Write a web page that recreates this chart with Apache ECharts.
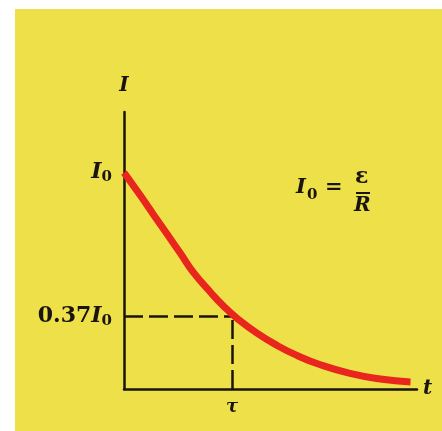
<!DOCTYPE html>
<html>
<head>
<meta charset="utf-8">
<script src="https://cdn.jsdelivr.net/npm/echarts@6/dist/echarts.min.js"></script>
<style>
  html, body { margin: 0; padding: 0; background: #fff; }
  #main { width: 442px; height: 431px; }
</style>
</head>
<body>
<div id="main"></div>
<script>
// time in units of tau, current in units of I0
const timeVals = [0, 0.15, 0.27, 0.40, 0.52, 0.64, 0.80, 0.92, 1.05, 1.23, 1.42, 1.60, 1.81, 2.09, 2.37, 2.65];
const currentVals = [1.0, 0.895, 0.808, 0.715, 0.628, 0.54, 0.447, 0.383, 0.325, 0.258, 0.200, 0.155, 0.113, 0.072, 0.046, 0.032];
const tauX = 1;
const markY = 0.335;
const yTicks = [markY, 1];
const yTickLabels = ['{n|0.37}{i|I}{s|0}', '{i|I}{s|0}'];
const xTicks = [tauX];
const xTickLabels = ['τ'];

const serif = '"DejaVu Serif", "Liberation Serif", serif';
const ink = '#1a1410';
const yellow = '#eee049';

const richTxt = {
  n: { fontFamily: serif, fontWeight: 'bold', fontSize: 22, color: ink },
  i: { fontFamily: serif, fontWeight: 'bold', fontStyle: 'italic', fontSize: 22, color: ink },
  s: { fontFamily: serif, fontWeight: 'bold', fontSize: 15, color: ink, padding: [10, 0, 0, 0] }
};

const chart = echarts.init(document.getElementById('main'));
chart.setOption({
  backgroundColor: '#fff',
  animation: false,
  graphic: [
    { type: 'rect', z: -10, shape: { x: 15, y: 9, width: 427, height: 422 }, style: { fill: yellow } },
    { type: 'text', left: 296, top: 177, style: { text: 'I', font: 'italic bold 21px ' + serif, fill: ink } },
    { type: 'text', left: 307, top: 188, style: { text: '0', font: 'bold 15px ' + serif, fill: ink } },
    { type: 'text', left: 325, top: 177, style: { text: '=', font: 'bold 21px ' + serif, fill: ink } },
    { type: 'text', left: 355, top: 166, style: { text: 'ε', font: 'bold 22px ' + serif, fill: ink } },
    { type: 'line', shape: { x1: 356, y1: 193, x2: 370, y2: 193 }, style: { stroke: ink, lineWidth: 2 } },
    { type: 'text', left: 354, top: 196, style: { text: 'R', font: 'italic bold 20px ' + serif, fill: ink } }
  ],
  grid: { left: 124, top: 112, right: 25, bottom: 42 },
  xAxis: {
    type: 'value', min: 0, max: 2.71,
    name: 't', nameLocation: 'end', nameGap: 6,
    nameTextStyle: { fontFamily: serif, fontWeight: 'bold', fontStyle: 'italic', fontSize: 20, color: ink, verticalAlign: 'middle' },
    axisLine: { lineStyle: { color: ink, width: 2.5 } },
    axisTick: { show: false },
    splitLine: { show: false },
    axisLabel: {
      customValues: xTicks, margin: 9,
      formatter: (v) => xTickLabels[xTicks.indexOf(v)] || '',
      fontFamily: serif, fontWeight: 'bold', fontStyle: 'italic', fontSize: 18, color: ink
    }
  },
  yAxis: {
    type: 'value', min: 0, max: 1.28,
    name: 'I', nameLocation: 'end', nameGap: 16,
    nameTextStyle: { fontFamily: serif, fontWeight: 'bold', fontStyle: 'italic', fontSize: 20, color: ink, align: 'center' },
    axisLine: { show: true, lineStyle: { color: ink, width: 2.5 } },
    axisTick: { show: false },
    splitLine: { show: false },
    axisLabel: {
      customValues: yTicks, margin: 12,
      formatter: (v) => yTickLabels[yTicks.indexOf(v)] || '',
      rich: richTxt
    }
  },
  series: [{
    type: 'line',
    data: timeVals.map((t, k) => [t, currentVals[k]]),
    smooth: 0.5,
    showSymbol: false,
    lineStyle: { color: '#e8261e', width: 7, cap: 'butt' },
    z: 3,
    markLine: {
      silent: true, symbol: 'none', z: 2,
      label: { show: false },
      lineStyle: { color: ink, width: 2.5, type: [19, 6] },
      data: [
        [{ coord: [0, markY] }, { coord: [tauX, markY] }],
        [{ coord: [tauX, 0] }, { coord: [tauX, markY] }]
      ]
    }
  }]
});
</script>
</body>
</html>
